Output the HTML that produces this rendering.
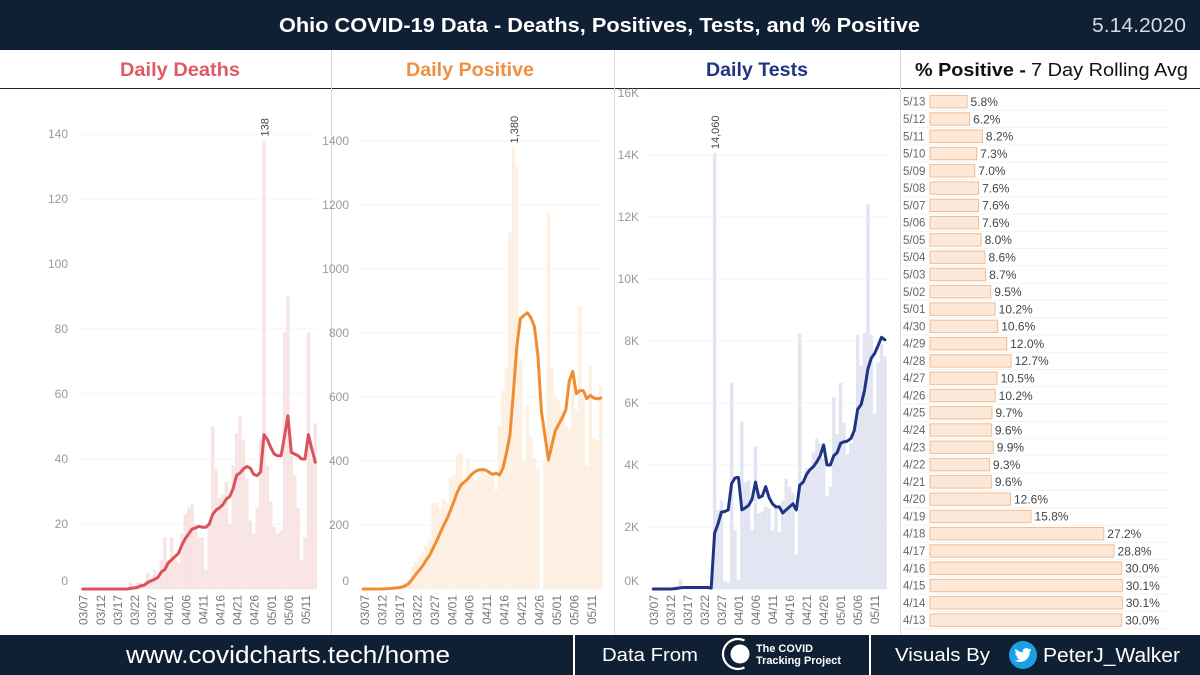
<!DOCTYPE html>
<html lang="en">
<head>
<meta charset="utf-8">
<title>Ohio COVID-19 Data</title>
<style>
html,body{margin:0;padding:0;background:#fff;width:1200px;height:675px;overflow:hidden}
svg{display:block}
text{font-family:"Liberation Sans",Arial,sans-serif}
</style>
</head>
<body>
<svg id="root" xmlns="http://www.w3.org/2000/svg" width="1200" height="675" viewBox="0 0 1200 675">
  <rect x="0" y="0" width="1200" height="675" fill="#ffffff"/>
  <rect x="0" y="0" width="1200" height="50" fill="#0f2035"/>
  <text x="279" y="32" font-size="20" font-weight="bold" fill="#ffffff" textLength="641" lengthAdjust="spacingAndGlyphs">Ohio COVID-19 Data - Deaths, Positives, Tests, and % Positive</text>
  <text x="1092" y="32" font-size="20" fill="#d5dbe3" textLength="94" lengthAdjust="spacingAndGlyphs">5.14.2020</text>

  <text x="120" y="76" font-size="19" font-weight="bold" fill="#df5a64" textLength="120" lengthAdjust="spacingAndGlyphs">Daily Deaths</text>
  <text x="406" y="76" font-size="19" font-weight="bold" fill="#ee9040" textLength="128" lengthAdjust="spacingAndGlyphs">Daily Positive</text>
  <text x="706" y="76" font-size="19" font-weight="bold" fill="#1f3584" textLength="102" lengthAdjust="spacingAndGlyphs">Daily Tests</text>
  <text x="915" y="76" font-size="18" font-weight="bold" fill="#111111" textLength="111" lengthAdjust="spacingAndGlyphs">% Positive -</text>
  <text x="1031" y="76" font-size="18" fill="#111111" textLength="157" lengthAdjust="spacingAndGlyphs">7 Day Rolling Avg</text>
  <rect x="0" y="88" width="1200" height="1" fill="#222222"/>
  <rect x="331" y="50" width="1" height="585" fill="#d8d8d8"/>
  <rect x="614" y="50" width="1" height="585" fill="#d8d8d8"/>
  <rect x="900" y="50" width="1" height="585" fill="#d8d8d8"/>

  <g id="charts"></g>

  <rect x="0" y="635" width="1200" height="40" fill="#0f2035"/>
  <rect x="573" y="635" width="2" height="40" fill="#ffffff"/>
  <rect x="869" y="635" width="2" height="40" fill="#ffffff"/>
  <text x="126" y="663" font-size="24" fill="#ffffff" textLength="324" lengthAdjust="spacingAndGlyphs">www.covidcharts.tech/home</text>
  <text x="602" y="661" font-size="18" fill="#ffffff" textLength="96" lengthAdjust="spacingAndGlyphs">Data From</text>
  <g>
    <circle cx="740" cy="654" r="9.5" fill="#ffffff"/>
    <path d="M744.5 640.5 A15 15 0 1 0 744.5 667.5" fill="none" stroke="#ffffff" stroke-width="2.2"/>
    <text x="756" y="652" font-size="11" font-weight="bold" fill="#ffffff" textLength="57" lengthAdjust="spacingAndGlyphs">The COVID</text>
    <text x="756" y="664" font-size="11" font-weight="bold" fill="#ffffff" textLength="85" lengthAdjust="spacingAndGlyphs">Tracking Project</text>
  </g>
  <text x="895" y="661" font-size="18" fill="#ffffff" textLength="95" lengthAdjust="spacingAndGlyphs">Visuals By</text>
  <circle cx="1023" cy="655" r="14" fill="#1d9fe8"/>
  <path transform="translate(1014.5 646.5) scale(0.71)" fill="#ffffff" d="M23.95 4.57a10 10 0 0 1-2.82.77 4.96 4.96 0 0 0 2.16-2.72c-.95.55-2 .96-3.12 1.19a4.92 4.92 0 0 0-8.38 4.48C7.69 8.09 4.07 6.13 1.64 3.16a4.82 4.82 0 0 0-.67 2.48c0 1.71.87 3.21 2.19 4.1a4.9 4.9 0 0 1-2.23-.61v.06c0 2.39 1.7 4.38 3.95 4.83a5 5 0 0 1-2.21.08 4.94 4.94 0 0 0 4.6 3.42A9.87 9.87 0 0 1 0 19.54a14 14 0 0 0 7.56 2.21c9.05 0 14-7.5 14-13.98 0-.21 0-.42-.02-.63a9.94 9.94 0 0 0 2.46-2.55z"/>
  <text x="1043" y="662" font-size="20" fill="#ffffff" textLength="137" lengthAdjust="spacingAndGlyphs">PeterJ_Walker</text>
</svg>
<script>
const dates = ["03/07","03/08","03/09","03/10","03/11","03/12","03/13","03/14","03/15","03/16","03/17","03/18","03/19","03/20","03/21","03/22","03/23","03/24","03/25","03/26","03/27","03/28","03/29","03/30","03/31","04/01","04/02","04/03","04/04","04/05","04/06","04/07","04/08","04/09","04/10","04/11","04/12","04/13","04/14","04/15","04/16","04/17","04/18","04/19","04/20","04/21","04/22","04/23","04/24","04/25","04/26","04/27","04/28","04/29","04/30","05/01","05/02","05/03","05/04","05/05","05/06","05/07","05/08","05/09","05/10","05/11","05/12","05/13","05/14"];
const dateTicks = ["03/07","03/12","03/17","03/22","03/27","04/01","04/06","04/11","04/16","04/21","04/26","05/01","05/06","05/11"];

const deathsTicks = [0,20,40,60,80,100,120,140];
const deathsDaily = [0,0,0,0,0,0,0,0,0,0,0,0,0,0,2,1,2,2,1,5,3,6,3,9,16,9,16,9,8,17,23,25,26,20,16,16,6,20,50,37,28,29,33,20,38,48,53,46,34,21,17,25,46,138,38,27,19,17,18,79,90,41,35,25,9,16,79,40,51];
const deathsAvg = [0,0,0,0,0,0,0,0,0,0,0,0,0,0,0.2,0.3,0.5,1,1.2,2,2.5,3,3.6,5.3,6,8,9,10,11,13.5,15.5,17,18.5,18.8,19.3,19,19,20,23,24.3,25,26,27.7,28.5,31,35,35.7,37,37.7,37.2,35.3,34.9,36,47.5,46,43.5,41.5,41,41,47,53.3,42,41.5,41,40,40,47.5,43,39];

const positiveTicks = [0,200,400,600,800,1000,1200,1400];
const positiveDaily = [0,0,0,0,0,0,1,2,6,5,8,12,20,30,70,85,100,115,135,155,270,270,250,280,270,350,355,420,425,330,410,350,340,350,370,360,360,350,310,510,620,690,1115,1380,1320,720,400,575,475,410,375,0,400,1176,690,600,590,560,510,500,680,560,884,600,385,695,470,465,635];
const positiveAvg = [0,0,0,0,0,0,1,1,2,3,4,6,10,17,30,45,58,72,90,105,128,150,175,198,220,247,275,305,325,335,345,358,367,372,373,372,365,358,362,356,378,425,480,615,760,845,855,863,848,820,730,555,480,403,450,495,515,535,560,650,680,610,620,620,595,605,597,594,597];

const testsTicks = [0,2000,4000,6000,8000,10000,12000,14000,16000];
const testsDaily = [0,0,0,0,0,0,50,100,300,100,100,100,100,100,50,100,50,50,14060,2550,2850,250,200,6650,1900,300,5400,3450,3500,1900,4600,2450,2500,2650,2600,1900,2650,1850,2850,3550,3300,3100,1100,8250,3400,3900,3800,4400,4850,4700,4200,3000,3300,6200,5000,6650,5350,4350,4700,5000,8200,7200,8250,12400,8200,5650,7300,7900,7500];
const testsAvg = [0,0,0,0,0,0,10,20,40,50,50,50,50,50,50,50,50,30,1800,2100,2480,2500,2550,3400,3580,3600,2550,2620,2700,2900,3450,2950,3000,3300,2950,2750,2650,2650,2450,2550,2650,2750,2550,3350,3450,3700,3850,3950,4100,4300,4650,4000,4000,4300,4400,4700,4750,4770,4850,5100,5800,5950,6400,7100,7450,7600,7850,8120,8040];

const pctDates = ["5/13","5/12","5/11","5/10","5/09","5/08","5/07","5/06","5/05","5/04","5/03","5/02","5/01","4/30","4/29","4/28","4/27","4/26","4/25","4/24","4/23","4/22","4/21","4/20","4/19","4/18","4/17","4/16","4/15","4/14","4/13"];
const pctValues = [5.8,6.2,8.2,7.3,7.0,7.6,7.6,7.6,8.0,8.6,8.7,9.5,10.2,10.6,12.0,12.7,10.5,10.2,9.7,9.6,9.9,9.3,9.6,12.6,15.8,27.2,28.8,30.0,30.1,30.1,30.0];

const NS = 'http://www.w3.org/2000/svg';
const host = document.getElementById('charts');

function mk(tag, parent, props) {
  const el = document.createElementNS(NS, tag);
  for (const k in props) el.setAttribute(k, props[k]);
  parent.appendChild(el);
  return el;
}

function drawChart(cfg) {
  const g = mk('g', host, {});
  
  

  const band = cfg.bandTotal / cfg.categories.length;
  const xCenter = function (i) { return cfg.bandStart + band * (i + 0.5); };
  const yPos = function (v) { return cfg.yZero - v * cfg.yScale; };

  cfg.yTicks.forEach(function (t) {
    const grid = mk('line', g, { x1: cfg.gridLeft, x2: cfg.gridRight, y1: yPos(t), y2: yPos(t), stroke: '#f4f4f4', 'stroke-width': 1 });
    
    
    let ly = yPos(t) + 4;
    if (t === 0) ly = yPos(t) - 4;
    if (ly < 97) ly = 100;
    const lab = mk('text', g, { x: cfg.tickRight, y: ly, 'text-anchor': 'end', 'font-size': 12, fill: '#9a9a9a' });
    lab.textContent = cfg.tickFormat(t);
    
    
  });

  cfg.daily.forEach(function (v, i) {
    if (v <= 0) return;
    const bar = mk('rect', g, { x: xCenter(i) - band / 2, y: yPos(v), width: band, height: v * cfg.yScale, fill: cfg.barColor });
    
    
  });

  const pts = cfg.avg.map(function (v, i) { return xCenter(i).toFixed(1) + ',' + yPos(v).toFixed(1); }).join(' ');
  const line = mk('polyline', g, { points: pts, fill: 'none', stroke: cfg.lineColor, 'stroke-width': 3, 'stroke-linejoin': 'round', 'stroke-linecap': 'round' });
  
  

  let peak = 0;
  cfg.daily.forEach(function (v, i) { if (v > cfg.daily[peak]) peak = i; });
  const px = xCenter(peak);
  const py = yPos(cfg.daily[peak]) - 4;
  const peakLabel = mk('text', g, { x: 0, y: 0, transform: 'translate(' + (px + 4.5) + ' ' + py + ') rotate(-90)', 'font-size': 11, fill: '#444444' });
  peakLabel.textContent = cfg.daily[peak].toLocaleString('en-US');
  
  

  dateTicks.forEach(function (d) {
    const i = cfg.categories.indexOf(d);
    const tx = xCenter(i) + cfg.labelOffset + 4;
    const tick = mk('text', g, { x: 0, y: 0, transform: 'translate(' + tx + ' 595) rotate(-90)', 'text-anchor': 'end', 'font-size': 12, fill: '#777777' });
    tick.textContent = d;
    
    
  });
}

drawChart({ name: 'daily-deaths', categories: dates, daily: deathsDaily, avg: deathsAvg, yTicks: deathsTicks,
  bandStart: 81, bandTotal: 236, yZero: 589, yScale: 3.25, gridLeft: 77, gridRight: 317, tickRight: 68, labelOffset: 1,
  barColor: '#f9e4e4', lineColor: '#dc525c', tickFormat: function (t) { return String(t); } });

drawChart({ name: 'daily-positive', categories: dates, daily: positiveDaily, avg: positiveAvg, yTicks: positiveTicks,
  bandStart: 361.5, bandTotal: 241, yZero: 589, yScale: 0.32, gridLeft: 357, gridRight: 603, tickRight: 349, labelOffset: 1.7,
  barColor: '#fdf0e3', lineColor: '#f08d33', tickFormat: function (t) { return String(t); } });

drawChart({ name: 'daily-tests', categories: dates, daily: testsDaily, avg: testsAvg, yTicks: testsTicks,
  bandStart: 651.6, bandTotal: 235, yZero: 589, yScale: 0.031, gridLeft: 648, gridRight: 888, tickRight: 639, labelOffset: 0.5,
  barColor: '#e2e5f1', lineColor: '#1f3584', tickFormat: function (t) { return (t / 1000) + 'K'; } });

const pctGroup = mk('g', host, {});


const pctX = function (v) { return v * 6.39; };
const pctY = function (i) { return 101.7 + i * 17.28; };
pctValues.forEach(function (v, i) {
  const cy = pctY(i);
  const sep = mk('line', pctGroup, { x1: 903, x2: 1170, y1: cy + 8.6, y2: cy + 8.6, stroke: '#f3f3f3', 'stroke-width': 1 });
  
  
  const bar = mk('rect', pctGroup, { x: 930, y: cy - 6.2, width: pctX(v), height: 12.4, fill: '#fde8d8', stroke: '#f2bd8f', 'stroke-width': 1 });
  
  
  const dateLab = mk('text', pctGroup, { x: 903, y: cy + 4, 'font-size': 11.5, fill: '#666666' });
  dateLab.textContent = pctDates[i];
  
  
  const valLab = mk('text', pctGroup, { x: 930 + pctX(v) + 3.5, y: cy + 4.3, 'font-size': 12, fill: '#444444' });
  valLab.textContent = v.toFixed(1) + '%';
  
  
});
</script>
</body>
</html>
